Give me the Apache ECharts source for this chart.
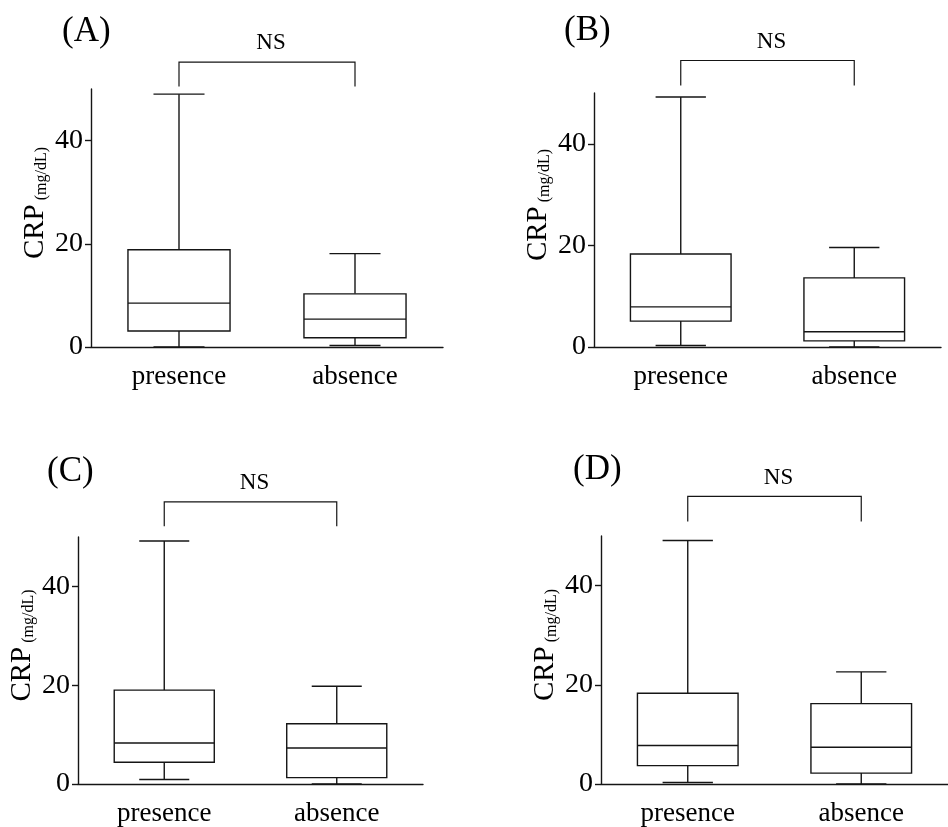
<!DOCTYPE html>
<html><head><meta charset="utf-8">
<script src="https://cdn.jsdelivr.net/npm/echarts@6/dist/echarts.min.js"></script>
<style>html,body{margin:0;padding:0;background:#fff}#c{width:948px;height:827px}</style>
</head><body><div id="c"></div>
<script>
// ---- data ----
const categories = ['presence', 'absence'];
const panelLabels = ['(A)', '(B)', '(C)', '(D)'];
const yTicks = [0, 20, 40];
const yMin = 0;
const yMax = 50;
// [min, Q1, median, Q3, max]  CRP (mg/dL)
const presenceA = [0, 3.1, 8.5, 18.85, 49.0];
const absenceA  = [0.3, 1.8, 5.4, 10.3, 18.1];
const presenceB = [0.3, 5.1, 7.9, 18.3, 49.2];
const absenceB  = [0, 1.2, 3.0, 13.6, 19.6];
const presenceC = [0.9, 4.4, 8.3, 19.0, 49.2];
const absenceC  = [0, 1.3, 7.3, 12.2, 19.8];
const presenceD = [0.3, 3.7, 7.75, 18.3, 49.1];
const absenceD  = [0, 2.2, 7.4, 16.2, 22.6];
const significance = ['NS', 'NS', 'NS', 'NS'];

// ---- layout (positions / styles) ----
const FONT = '"Liberation Serif", "Times New Roman", serif';
const INK = '#151515';
const layout = [
  { grid: { left: 91, top: 89, width: 352, height: 258 }, title: { left: 62, top: 14 }, bracket: { leg: 50.5, top: 55.2, text: 59.0 } },
  { grid: { left: 594, top: 93, width: 347, height: 254 }, title: { left: 564, top: 13 }, bracket: { leg: 51.5, top: 56.4, text: 60.1 } },
  { grid: { left: 78, top: 537, width: 345, height: 249 }, title: { left: 47, top: 454 }, bracket: { leg: 52.2, top: 57.1, text: 60.9 } },
  { grid: { left: 601, top: 536, width: 356, height: 254 }, title: { left: 573, top: 452 }, bracket: { leg: 52.9, top: 58.0, text: 61.7 } }
];
const panelData = [
  [presenceA, absenceA],
  [presenceB, absenceB],
  [presenceC, absenceC],
  [presenceD, absenceD]
];

function seg(x1, y1, x2, y2) {
  return { type: 'line', shape: { x1, y1, x2, y2 }, style: { stroke: INK, lineWidth: 1.4 } };
}

function renderBox(params, api) {
  const c = api.value(0);
  const v = [1, 2, 3, 4, 5].map(i => api.value(i));
  const band = api.size([1, 0])[0];
  const half = band * 0.29;
  const cap = band * 0.145;
  const x = api.coord([c, 0])[0];
  const y = v.map(val => api.coord([c, val])[1]);
  return {
    type: 'group',
    children: [
      seg(x, y[4], x, y[3]),
      seg(x, y[1], x, y[0]),
      seg(x - cap, y[4], x + cap, y[4]),
      seg(x - cap, y[0], x + cap, y[0]),
      { type: 'rect', shape: { x: x - half, y: y[3], width: 2 * half, height: y[1] - y[3] },
        style: { fill: '#fff', stroke: INK, lineWidth: 1.4 } },
      seg(x - half, y[2], x + half, y[2])
    ]
  };
}

function makeBracketRenderer(label) {
  return function (params, api) {
    const a = api.value(0), b = api.value(1);
    const leg = api.value(2), top = api.value(3), ty = api.value(4);
    const p1 = api.coord([a, leg]), p2 = api.coord([a, top]);
    const p3 = api.coord([b, top]), p4 = api.coord([b, leg]);
    const tp = api.coord([a, ty]);
    return {
      type: 'group',
      children: [
        { type: 'polyline', shape: { points: [p1, p2, p3, p4] }, style: { stroke: INK, lineWidth: 1.2, fill: null } },
        { type: 'text', style: { text: label, x: (p2[0] + p3[0]) / 2 + 4, y: tp[1], align: 'center', verticalAlign: 'middle',
          font: '23px ' + FONT, fill: '#000' } }
      ]
    };
  };
}

const option = {
  animation: false,
  backgroundColor: '#fff',
  title: layout.map((L, i) => ({
    text: panelLabels[i], left: L.title.left, top: L.title.top, padding: 0,
    textStyle: { fontFamily: FONT, fontSize: 35, fontWeight: 'normal', color: '#000' }
  })),
  grid: layout.map(L => Object.assign({ containLabel: false }, L.grid)),
  xAxis: layout.map((L, i) => ({
    type: 'category', gridIndex: i, data: categories,
    axisLine: { lineStyle: { color: INK, width: 1.4 } },
    axisTick: { show: false },
    axisLabel: { margin: 16, color: '#000', fontFamily: FONT, fontSize: 27 },
    splitLine: { show: false }
  })),
  yAxis: layout.map((L, i) => ({
    type: 'value', gridIndex: i, min: yMin, max: yMax, interval: 20,
    name: '{a|CRP}{b| (mg/dL)}', nameLocation: 'middle', nameGap: 41, nameRotate: 90,
    nameTextStyle: {
      padding: [0, 0, 0, 30],
      rich: {
        a: { fontFamily: FONT, fontSize: 29, color: '#000', verticalAlign: 'bottom' },
        b: { fontFamily: FONT, fontSize: 16, color: '#000', verticalAlign: 'bottom' }
      }
    },
    axisLine: { show: true, lineStyle: { color: INK, width: 1.4 } },
    axisTick: { show: true, length: 6, lineStyle: { color: INK, width: 1.4 }, customValues: yTicks },
    axisLabel: { margin: 8, color: '#000', fontFamily: FONT, fontSize: 28, customValues: yTicks },
    splitLine: { show: false }
  })),
  series: []
};

panelData.forEach((pair, i) => {
  option.series.push({
    type: 'custom', name: 'CRP ' + panelLabels[i], xAxisIndex: i, yAxisIndex: i, clip: false,
    renderItem: renderBox,
    encode: { x: 0, y: [1, 2, 3, 4, 5] },
    data: pair.map((s, k) => [categories[k]].concat(s))
  });
  option.series.push({
    type: 'custom', name: 'sig ' + panelLabels[i], xAxisIndex: i, yAxisIndex: i, clip: false, silent: true,
    renderItem: makeBracketRenderer(significance[i]),
    encode: { x: [0, 1], y: [2, 3, 4] },
    data: [[categories[0], categories[1], layout[i].bracket.leg, layout[i].bracket.top, layout[i].bracket.text]]
  });
});

const chart = echarts.init(document.getElementById('c'), null, { renderer: 'canvas' });
chart.setOption(option);
</script>
</body></html>
